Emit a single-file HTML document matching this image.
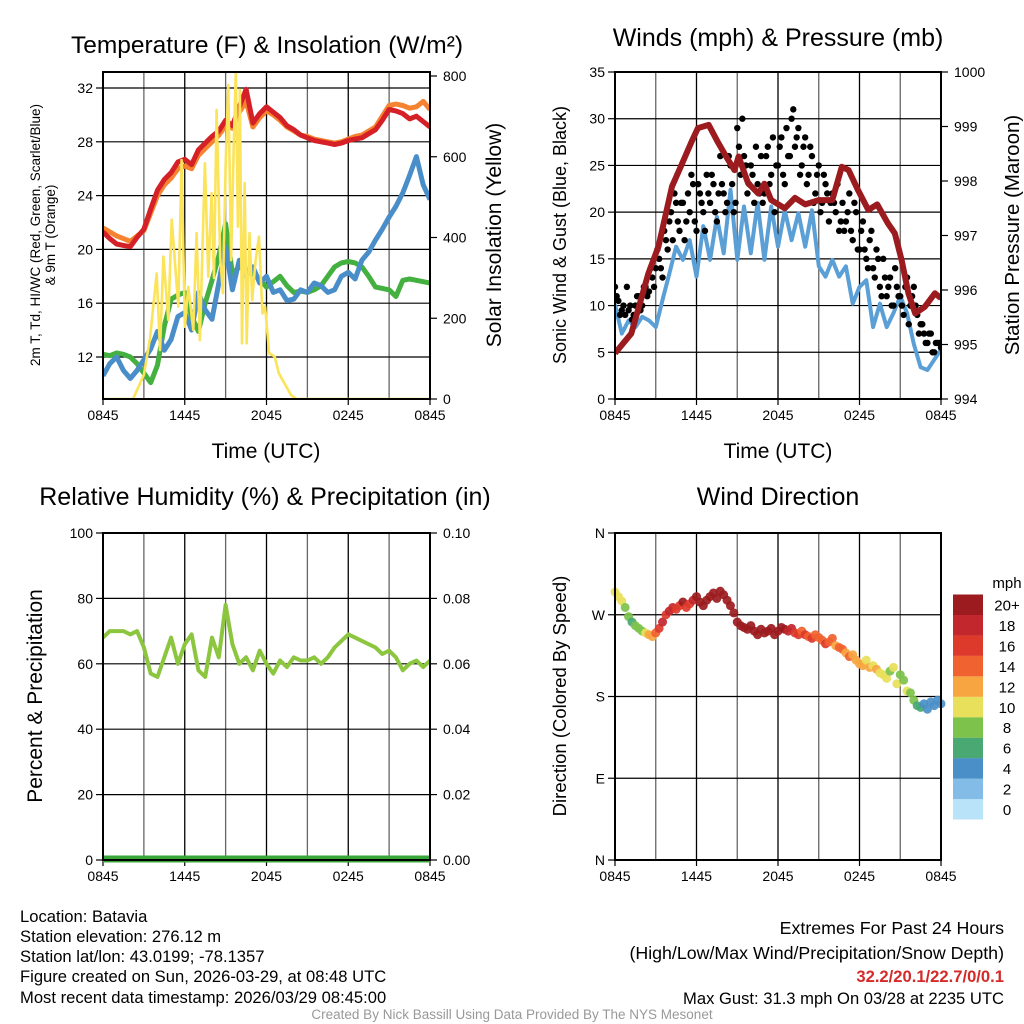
<!DOCTYPE html>
<html><head><meta charset="utf-8"><style>
html,body{margin:0;padding:0;background:#fff}
svg{display:block;font-family:"Liberation Sans",Arial,sans-serif}
</style></head><body>
<svg id="c" width="1024" height="1024" viewBox="0 0 1024 1024">
<rect width="1024" height="1024" fill="#fff"/>
<g font-size="16.6" fill="#000">
<text x="20" y="922">Location: Batavia</text>
<text x="20" y="942">Station elevation: 276.12 m</text>
<text x="20" y="962">Station lat/lon: 43.0199; -78.1357</text>
<text x="20" y="982">Figure created on Sun, 2026-03-29, at 08:48 UTC</text>
<text x="20" y="1003">Most recent data timestamp: 2026/03/29 08:45:00</text>
</g>
<g font-size="17.8" text-anchor="end">
<text x="1004" y="934">Extremes For Past 24 Hours</text>
<text x="1004" y="959">(High/Low/Max Wind/Precipitation/Snow Depth)</text>
<text x="1004" y="982" fill="#d42a2a" font-weight="bold" font-size="16.6">32.2/20.1/22.7/0/0.1</text>
<text x="1004" y="1004" font-size="16.6">Max Gust: 31.3 mph On 03/28 at 2235 UTC</text>
</g>
<text x="512" y="1019" font-size="13.5" fill="#999" text-anchor="middle">Created By Nick Bassill Using Data Provided By The NYS Mesonet</text>
</svg>
<script>
// ---- data (hours 0..24 from 0845 UTC) ----
const xTickLabels = ["0845","1445","2045","0245","0845"];
const temp2m = [21.3,20.8,20.4,20.3,20.2,20.9,21.5,23,24.4,25.2,25.7,26.5,26.7,26.3,27.4,27.9,28.4,28.8,29.6,29.2,30.6,31.9,29.4,30.1,30.6,30.2,29.8,29.2,28.9,28.5,28.3,28.1,28,27.9,27.8,27.9,28.1,28.2,28.3,28.6,28.9,29.6,30.4,30.3,30.1,29.7,29.9,29.5,29.1];
const temp9m = [21.6,21.3,21.0,20.8,20.6,21.0,21.4,22.7,24.0,24.8,25.3,26.0,26.2,26.0,27.0,27.5,28.0,28.5,29.2,29.0,30.2,31.0,29.1,29.8,30.3,30.0,29.6,29.1,28.8,28.5,28.4,28.2,28.1,28.0,27.9,28.0,28.2,28.4,28.5,28.8,29.1,29.9,30.7,30.8,30.7,30.5,30.6,31.0,30.4];
const dewpt = [10.6,11.5,12,11,10.4,11,11.8,12.6,13.9,12.5,13.3,15,15.3,14,16.8,15.5,14.8,17.5,20.2,17,19.2,18,18.7,17.5,18,16.8,17,16.2,16.3,17,16.8,17.5,17.3,16.8,17,18,18.3,17.8,19.2,19.8,20.7,21.5,22.4,23.2,24.2,25.5,26.9,24.8,23.7];
const hiwc = [12.2,12.1,12.3,12.2,12,11.5,10.8,10.1,11.4,14.3,16.3,16.6,16.8,15,13.9,16,17.7,19.5,21.9,18.2,18.7,18.5,18.2,17.8,17.2,17.6,18,17.3,16.8,16.9,16.8,17,17.3,18,18.7,19,19.1,19,18.7,18,17.2,17.1,17,16.5,17.7,17.8,17.7,17.6,17.5];
const insolHours = [0,2.2,3.0,3.45,3.94,4.18,4.43,4.79,5.04,5.53,5.77,6.01,6.26,6.63,6.87,7.11,7.48,7.73,7.97,8.15,8.34,8.6,8.8,9.0,9.2,9.4,9.6,9.75,9.9,10.05,10.2,10.4,10.55,10.75,10.95,11.2,11.45,11.7,11.9,12.2,12.6,12.9,13.3,13.8,14.2,24];
const insol = [0,0,60,150,311,121,353,196,444,229,592,179,278,171,411,146,584,303,510,300,716,350,262,576,778,344,634,811,427,766,138,535,138,411,245,344,402,212,229,113,105,64,40,10,0,0];
const wind = [10.1,7.0,8.4,7.7,8.8,8.4,7.7,10.6,13.4,16.3,14.9,17.0,13.1,18.5,14.9,19.5,15.6,22.4,14.9,20.6,15.6,21.0,14.9,20.6,16.3,20.2,17.0,19.9,16.3,20.2,14.2,13.1,14.9,13.1,14.2,10.2,12.0,12.7,7.7,10.2,7.7,9.2,11.0,9.2,5.9,3.4,3.1,4.2,5.3];
const gust = [12,10.5,9.5,9,9.5,8.5,10,11,10,12,11.5,13,14,15,13,17,19,17,21,18,21,19,20,23,18,22,20,24,21,23,19,26,22,21,25,20,29,24,26,22,25,21,23,26,22,27,24,20,25,28,23,26,30,27,29,25,28,24,26,22,25,21,23,19,22,20,18,21,19,22,17,20,16,19,15,17,14,16,12,15,11,13,10,12,11,9,13,10,12,9,8,7,6,7,5,6,5.5];
const gust2 = [11,9,10,12,10,9,11,9.5,12,11,14,12,16,14,18,16,20,22,19,21,17,22,24,19,23,21,18,22,24,20,22,23,20,26,23,21,27,30,25,23,24,27,22,21,26,23,28,25,27,24,29,26,31,28,24,27,23,27,21,24,20,24,22,21,21,23,19,18,20,18,21,16,18,16,14,18,13,15,11,13,12,10,14,11,10,12,8,11,10,7,8,6,7,5,6,6];
const pressHours = [0,1.2,2.45,3.2,4.2,4.9,5.6,6.1,6.9,7.6,8.3,8.8,9.1,9.8,10.55,11.0,11.5,12.5,13.25,14,15,16,16.7,17.2,17.9,18.65,19.3,20.1,20.6,21.1,21.6,22.1,22.8,23.55,24];
const pressure = [994.84,995.2,996.3,996.8,997.9,998.3,998.7,998.97,999.03,998.7,998.4,998.2,998.45,997.96,997.77,997.95,997.65,997.5,997.69,997.57,997.65,997.65,998.26,998.2,997.83,997.47,997.57,997.22,997.04,996.55,995.94,995.57,995.69,995.94,995.85];
const rh = [68,70,70,70,69,70,65,57,56,62,68,60,66,69,58,56,68,62,78,66,60,62,58,64,60,57,61,59,62,61,61,62,60,62,65,67,69,68,67,66,65,63,64,62,58,60,61,59,61];
const direction = [295,290,285,278,268,262,258,255,252,250,248,246,250,255,262,270,274,278,276,280,284,278,282,286,290,284,280,286,290,294,288,296,292,286,280,272,262,258,256,254,258,252,248,254,250,252,255,248,252,256,254,252,255,250,248,252,248,246,244,248,245,242,238,240,244,236,234,232,228,224,226,220,216,214,220,212,214,210,206,204,200,208,212,194,204,198,186,184,176,170,168,172,166,174,170,176,172];
const dirSpeed = [9,10,9,8,7,6,7,7,8,10,11,12,14,16,17,16,18,17,15,16,19,15,16,18,20,21,20,22,21,20,19,21,20,19,21,20,20,21,22,20,21,20,22,21,20,21,22,20,21,20,19,18,17,16,15,14,15,14,15,13,14,13,15,14,13,12,14,13,12,13,12,11,12,11,10,11,10,11,10,9,9,8,10,9,8,7,9,8,7,6,5,4,4,3,4,3,3];
const dirLabels = ["N","E","S","W","N"];
const speedBins = ["0","2","4","6","8","10","12","14","16","18","20+"];
const binColors = ["#b9e3f8","#83bce6","#4a8fc8","#4aa873","#7dc24b","#e8e05a","#f7a541","#f0622f","#dd3a2b","#c1272d","#9b1b1e"];

const NS="http://www.w3.org/2000/svg", svg=document.getElementById('c');
function el(tag,attrs,parent,text){const e=document.createElementNS(NS,tag);for(const k in attrs)e.setAttribute(k,attrs[k]);if(text!==undefined)e.textContent=text;(parent||svg).appendChild(e);return e;}
function lin(d0,d1,r0,r1){return v=>r0+(v-d0)*(r1-r0)/(d1-d0);}
function pathOf(xs,ys,fx,fy){return xs.map((x,i)=>(i?'L':'M')+fx(x).toFixed(1)+','+fy(ys[i]).toFixed(1)).join('');}
const half = rh.map((_,i)=>i*0.5);
const quarter = direction.map((_,i)=>i*0.25);
const quarter2 = gust2.map((_,i)=>i*0.25+0.125);

function frame(g,L,T,R,B){
  const xs=lin(0,24,L,R);
  for(let h=3;h<24;h+=3){const gl=el('line',{x1:xs(h),x2:xs(h),y1:T,y2:B,stroke:(h%6?'#666':'#000'),'stroke-width':1.3},g);}
  for(let i=0;i<5;i++){const x=xs(i*6);
    const t=el('text',{x:x,y:B+21,'font-size':14,'text-anchor':'middle'},g,xTickLabels[i]);
    
    el('line',{x1:x,x2:x,y1:B,y2:B+6,stroke:'#000','stroke-width':1.2},g);}
  return xs;
}
function box(g,L,T,R,B){const r=el('rect',{x:L,y:T,width:R-L,height:B-T,fill:'none',stroke:'#000','stroke-width':2},g);}
function yAxis(g,L,R,fy,vals,labels,side){
  vals.forEach((v,i)=>{const y=fy(v);
    el('line',{x1:L,x2:R,y1:y,y2:y,stroke:'#000','stroke-width':1.2},g);
    el('line',{x1:L-7,x2:L,y1:y,y2:y,stroke:'#000','stroke-width':1.2},g);
    const t=el('text',{x:L-10,y:y+5,'font-size':14,'text-anchor':'end'},g,labels[i]);
    });
}
function rTicks(g,R,fy,vals,labels){vals.forEach((v,i)=>{const y=fy(v);el('line',{x1:R,x2:R+7,y1:y,y2:y,stroke:'#000','stroke-width':1.2},g);
  const t=el('text',{x:R+13,y:y+5,'font-size':14},g,labels[i]);});}
function title(x,y,txt,size,name,rot){const t=el('text',{x:x,y:y,'font-size':size,'text-anchor':'middle',transform:rot?`rotate(-90 ${x} ${y})`:''},svg,txt);return t;}

// ---- Panel 1: temperature ----
{const g=el('g',{});
 const L=103,T=72,R=430,B=399;
 const fx=frame(g,L,T,R,B); const fy=lin(12,32,357,88); const fs=lin(0,800,399,76);
 yAxis(g,L,R,fy,[12,16,20,24,28,32],["12","16","20","24","28","32"],'left');
 rTicks(g,R,fs,[0,200,400,600,800],["0","200","400","600","800"]);
 const clip=el('clipPath',{id:'cp1'},g);el('rect',{x:L,y:T,width:R-L,height:B-T},clip);
 const s=el('g',{'clip-path':'url(#cp1)'},g);
 [[temp9m,'#f5832f','temp-9m-line'],[temp2m,'#d42026','temp-2m-line'],[hiwc,'#44b03f','heat-index-line'],[dewpt,'#4a8ec9','dewpoint-line']].forEach(([d,c,n])=>{
   const p=el('path',{d:pathOf(half,d,fx,fy),fill:'none',stroke:c,'stroke-width':5,'stroke-linejoin':'round'},s);});
 const p=el('path',{d:pathOf(insolHours,insol,fx,fs),fill:'none',stroke:'#fbe35a','stroke-width':2.6,'stroke-linejoin':'round'},s);
 
 box(g,L,T,R,B);
 title(267,53,'Temperature (F) & Insolation (W/m²)',24.5,'temperature-title');
 title(266,458,'Time (UTC)',21,'x-axis-title');
 title(40,235,'2m T, Td, HI/WC (Red, Green, Scarlet/Blue)',13.5,'left-y-axis-title',true);
 title(55,235,'& 9m T (Orange)',13.5,'left-y-axis-title-2',true);
 title(501,235,'Solar Insolation (Yellow)',21,'right-y-axis-title',true);}

// ---- Panel 2: winds ----
{const g=el('g',{});
 const L=615,T=72,R=941,B=399;
 const fx=frame(g,L,T,R,B); const fy=lin(0,35,399,72); const fp=lin(994,1000,399,72);
 yAxis(g,L,R,fy,[0,5,10,15,20,25,30,35],["0","5","10","15","20","25","30","35"],'left');
 rTicks(g,R,fp,[994,995,996,997,998,999,1000],["994","995","996","997","998","999","1000"]);
 const clip=el('clipPath',{id:'cp2'},g);el('rect',{x:L,y:T,width:R-L,height:B-T},clip);
 const s=el('g',{'clip-path':'url(#cp2)'},g);
 const w=el('path',{d:pathOf(half,wind,fx,fy),fill:'none',stroke:'#5a9fd6','stroke-width':4,'stroke-linejoin':'round'},s);
 
 gust.forEach((v,i)=>{const c=el('circle',{cx:fx(quarter[i]),cy:fy(v),r:3.2,fill:'#000'},s);
   });
 gust2.forEach((v,i)=>{const c=el('circle',{cx:fx(quarter2[i]),cy:fy(v),r:3.2,fill:'#000'},s);
   });
 const pr=el('path',{d:pathOf(pressHours,pressure,fx,fp),fill:'none',stroke:'#9b1b1e','stroke-width':6,'stroke-linejoin':'round'},s);
 
 box(g,L,T,R,B);
 title(778,46,'Winds (mph) & Pressure (mb)',25,'wind-title');
 title(778,458,'Time (UTC)',21,'x-axis-title-2');
 title(566,235,'Sonic Wind & Gust (Blue, Black)',18,'wind-y-axis-title',true);
 title(1019,235,'Station Pressure (Maroon)',20.5,'pressure-y-axis-title',true);}

// ---- Panel 3: RH ----
{const g=el('g',{});
 const L=103,T=533,R=430,B=860;
 const fx=frame(g,L,T,R,B); const fy=lin(0,100,860,533);
 yAxis(g,L,R,fy,[0,20,40,60,80,100],["0","20","40","60","80","100"],'left');
 rTicks(g,R,fy,[0,20,40,60,80,100],["0.00","0.02","0.04","0.06","0.08","0.10"]);
 const p=el('path',{d:pathOf(half,rh,fx,fy),fill:'none',stroke:'#8cc63f','stroke-width':4,'stroke-linejoin':'round'},g);
 
 const pc=el('line',{x1:L,x2:R,y1:B-1,y2:B-1,stroke:'#3aa63a','stroke-width':7},g);
 
 box(g,L,T,R,B);
 title(265,505,'Relative Humidity (%) & Precipitation (in)',25,'humidity-title');
 title(42,696,'Percent & Precipitation',21,'rh-y-axis-title',true);}

// ---- Panel 4: wind direction ----
{const g=el('g',{});
 const L=615,T=533,R=941,B=860;
 const fx=frame(g,L,T,R,B); const fy=lin(0,360,860,533);
 yAxis(g,L,R,fy,[0,90,180,270,360],dirLabels,'left');
 direction.forEach((d,i)=>{const sp=dirSpeed[i];const bi=Math.min(10,Math.max(0,Math.round(sp/2)));
   const c=el('circle',{cx:fx(quarter[i]),cy:fy(d),r:4.5,fill:binColors[bi],opacity:0.92},g);
   });
 box(g,L,T,R,B);
 const cb=el('g',{},g);
 speedBins.forEach((lab,i)=>{const y=799-i*20.45;
   el('rect',{x:953,y:y,width:30,height:20.5,fill:binColors[i]},cb);
   const t=el('text',{x:1007,y:y+16,'font-size':15,'text-anchor':'middle'},cb,lab);});
 el('text',{x:1007,y:588,'font-size':15,'text-anchor':'middle'},cb,'mph');
 title(778,505,'Wind Direction',25,'direction-title');
 title(566,696,'Direction (Colored By Speed)',18.5,'direction-y-axis-title',true);}
</script>
</body></html>
